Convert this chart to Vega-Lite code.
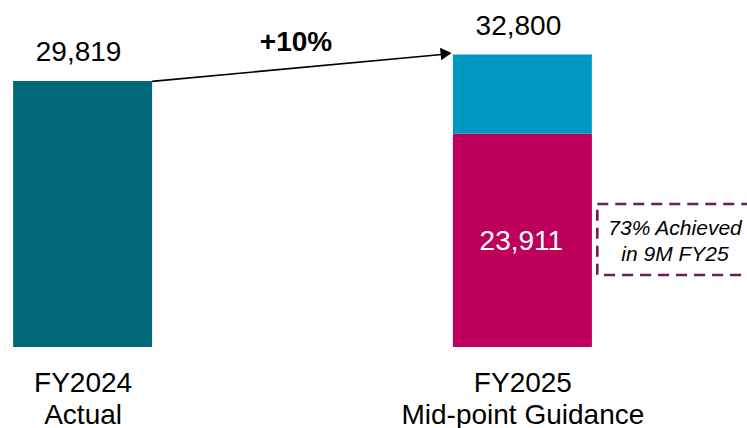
{
  "$schema": "https://vega.github.io/schema/vega-lite/v6.json",
  "width": 747,
  "height": 347,
  "autosize": "none",
  "padding": {"top": 0, "left": 0, "right": 0, "bottom": 81},
  "background": "white",
  "config": {"view": {"stroke": null}, "font": "Liberation Sans", "text": {"font": "Liberation Sans"}},
  "data": {
    "values": [
      {"category": "FY2024 Actual", "pos": 0, "segment": "FY2024 Actual", "start": 0, "end": 29819, "total": 29819},
      {"category": "FY2025 Mid-point Guidance", "pos": 1, "segment": "Achieved in 9M FY25", "start": 0, "end": 23911, "total": 32800},
      {"category": "FY2025 Mid-point Guidance", "pos": 1, "segment": "Remaining to guidance", "start": 23911, "end": 32800, "total": 32800}
    ]
  },
  "encoding": {
    "x": {
      "type": "quantitative",
      "scale": {"domain": [-0.1878, 1.5107], "nice": false, "zero": false, "padding": 0},
      "axis": {
        "values": [0, 1],
        "title": null,
        "domain": false,
        "ticks": false,
        "tickSize": 0,
        "grid": false,
        "labelExpr": "datum.value == 0 ? ['FY2024', 'Actual'] : ['FY2025', 'Mid-point Guidance']",
        "labelFont": "Liberation Sans",
        "labelFontSize": 28,
        "labelLineHeight": 32,
        "labelColor": "#000000",
        "labelBaseline": "alphabetic",
        "labelPadding": 44,
        "labelLimit": 500,
        "labelOverlap": false,
        "labelFlush": false
      }
    },
    "y": {
      "type": "quantitative",
      "scale": {"domain": [0, 38899], "nice": false, "zero": false, "padding": 0},
      "axis": null
    }
  },
  "layer": [
    {
      "mark": {"type": "bar", "width": 139},
      "encoding": {
        "x": {"field": "pos", "type": "quantitative"},
        "y": {"field": "end", "type": "quantitative"},
        "y2": {"field": "start"},
        "color": {
          "field": "segment", "type": "nominal",
          "scale": {"domain": ["FY2024 Actual", "Achieved in 9M FY25", "Remaining to guidance"], "range": ["#006877", "#BC005B", "#0097C2"]},
          "legend": null
        }
      }
    },
    {
      "transform": [{"filter": "datum.start == 0"}],
      "mark": {"type": "text", "fontSize": 28, "baseline": "alphabetic", "align": "center", "dy": -19.5, "dx": -4, "color": "#000000"},
      "encoding": {
        "x": {"field": "pos", "type": "quantitative"},
        "y": {"field": "total", "type": "quantitative"},
        "text": {"field": "total", "type": "quantitative", "format": ","}
      }
    },
    {
      "transform": [{"filter": "datum.segment == 'Achieved in 9M FY25'"}],
      "mark": {"type": "text", "fontSize": 28, "baseline": "alphabetic", "align": "center", "dy": 116.3, "dx": -1, "color": "#FFFFFF"},
      "encoding": {
        "x": {"field": "pos", "type": "quantitative"},
        "y": {"field": "end", "type": "quantitative"},
        "text": {"field": "end", "type": "quantitative", "format": ","}
      }
    },
    {
      "data": {"values": [{}]},
      "mark": {"type": "rule", "color": "#000000", "strokeWidth": 1.6},
      "encoding": {
        "x": {"datum": 0.158, "type": "quantitative"},
        "y": {"datum": 29780, "type": "quantitative"},
        "x2": {"datum": 0.835},
        "y2": {"datum": 32880}
      }
    },
    {
      "data": {"values": [{}]},
      "mark": {"type": "point", "shape": "triangle-right", "filled": true, "color": "#000000", "opacity": 1, "size": 160, "angle": -5.5},
      "encoding": {
        "x": {"datum": 0.8265, "type": "quantitative"},
        "y": {"datum": 32900, "type": "quantitative"}
      }
    },
    {
      "data": {"values": [{}]},
      "mark": {"type": "text", "text": "+10%", "fontSize": 28, "fontWeight": "bold", "baseline": "alphabetic", "align": "center", "color": "#000000"},
      "encoding": {
        "x": {"datum": 0.4852, "type": "quantitative"},
        "y": {"datum": 33216, "type": "quantitative"}
      }
    },
    {
      "data": {"values": [{}]},
      "mark": {"type": "rect", "fill": null, "fillOpacity": 0, "stroke": "#6E1A55", "strokeWidth": 2.6, "strokeDash": [11, 7], "clip": true},
      "encoding": {
        "x": {"datum": 1.1703, "type": "quantitative"},
        "x2": {"datum": 1.56},
        "y": {"datum": 16031, "type": "quantitative"},
        "y2": {"datum": 8071}
      }
    },
    {
      "data": {"values": [{}]},
      "mark": {"type": "text", "text": ["73% Achieved", "in 9M FY25"], "fontSize": 21, "fontStyle": "italic", "lineHeight": 26, "baseline": "alphabetic", "align": "center", "color": "#000000"},
      "encoding": {
        "x": {"datum": 1.347, "type": "quantitative"},
        "y": {"datum": 12555, "type": "quantitative"}
      }
    }
  ]
}
